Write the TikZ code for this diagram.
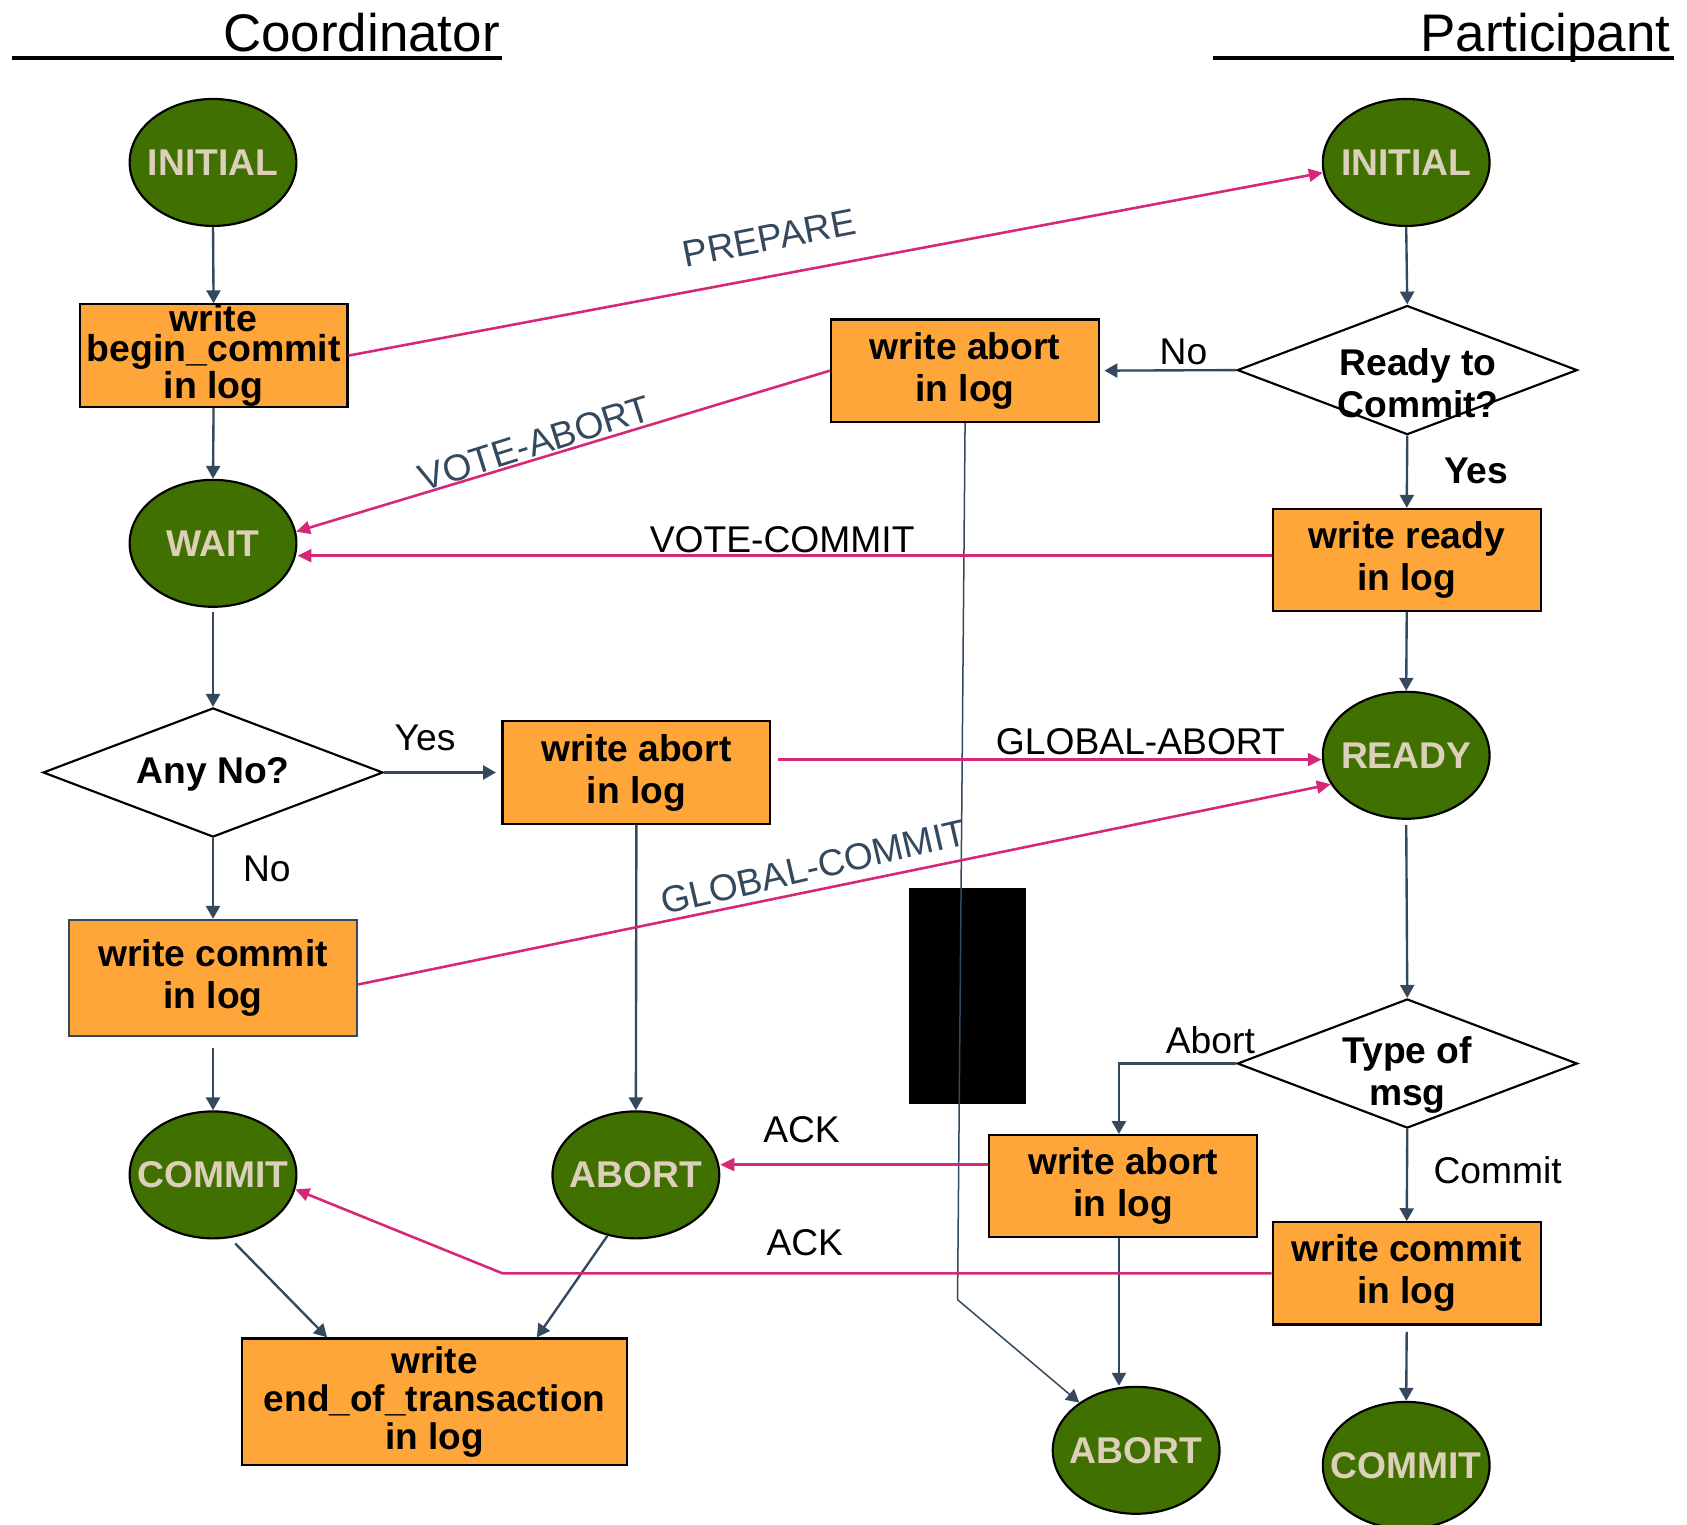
\documentclass[tikz,border=0pt]{standalone}
\usepackage{fontspec}
\setmainfont{Liberation Sans}
\usetikzlibrary{shapes.geometric,arrows.meta,calc}
\definecolor{stategreen}{RGB}{64,113,0}
\definecolor{statetext}{RGB}{221,208,186}
\definecolor{logorange}{RGB}{255,166,59}
\definecolor{slate}{RGB}{52,73,94}
\definecolor{msgpink}{RGB}{214,40,120}
\newcommand\zw[1]{\makebox[0pt]{#1}}
\tikzset{
 state/.style={ellipse, draw=black, line width=1pt, fill=stategreen, minimum width=77.5pt, minimum height=59pt, inner sep=0pt, text=statetext, font=\fontsize{17.3}{20}\selectfont\bfseries},
 logbox/.style={rectangle, draw=black, line width=1pt, fill=logorange, minimum width=124.5pt, minimum height=47.5pt, inner sep=0pt, align=center, font=\fontsize{17.3}{19.5}\selectfont\bfseries},
 decision/.style={diamond, draw=black, line width=1pt, fill=white, minimum width=158pt, minimum height=60pt, inner sep=0pt},
 dtext/.style={align=center, inner sep=0pt, font=\fontsize{17.3}{19.5}\selectfont\bfseries},
 flow/.style={draw=slate, line width=1.1pt, -{Triangle[length=6pt,width=6.5pt]}},
 flowthin/.style={flow, line width=0.7pt},
 msg/.style={draw=msgpink, line width=1.2pt, -{Triangle[length=6.5pt,width=6pt]}},
 lbl/.style={inner sep=0pt, font=\fontsize{17.3}{19.5}\selectfont},
 blbl/.style={lbl, font=\fontsize{17.3}{19.5}\selectfont\bfseries},
 slbl/.style={lbl, text=slate},
 title/.style={inner sep=0pt, font=\fontsize{24.6}{28}\selectfont},
}
\begin{document}
\begin{tikzpicture}[x=0.5pt,y=-0.5pt]
\useasboundingbox (0,0) rectangle (1568,1417.4);

% titles
\node[title, anchor=base west] (tcoord) at (207,48) {Coordinator};
\draw[line width=1.5pt] ([xshift=1pt,yshift=-3pt]tcoord.base east) -- ++(-456,0);
\node[title, anchor=base east] (tpart) at (1553,48) {Participant};
\draw[line width=1.5pt] ([xshift=1.5pt,yshift=-3pt]tpart.base east) -- ++(-429,0);

% redaction block
\node[fill=black, inner sep=0pt, minimum width=54.5pt, minimum height=100.5pt] (blk) at (899.5,925.5) {};

% coordinator side
\node[state] (ci) at (198,151) {\zw{INITIAL}};
\node[logbox, font=\fontsize{17.4}{14}\selectfont\bfseries] (bc) at (198.5,330.5) {write\\begin\_commit\\in log};
\node[state] (wait) at (198,505) {\zw{WAIT}};
\node[decision] (anyno) at (198,718) {};
\node[dtext] (ant) at (198,720) {Any No?};
\node[logbox, minimum width=134pt, minimum height=54pt, draw=slate] (wc) at (198,909) {write commit\\in log};
\node[state] (commitc) at (198,1092) {\zw{COMMIT}};
\node[logbox] (wa2) at (591.5,718) {write abort\\in log};
\node[state] (abortc) at (591,1092) {\zw{ABORT}};
\node[logbox, minimum width=179pt, minimum height=59pt, font=\fontsize{17.2}{17.5}\selectfont\bfseries] (eot) at (404,1303) {write\\end\_of\_transaction\\in log};

% participant side
\node[state] (pi) at (1307,151) {\zw{INITIAL}};
\node[decision] (rd) at (1308,344) {};
\node[dtext] (rdt) at (1318,356) {Ready to\\Commit?};
\node[logbox] (wa1) at (897,344.5) {write abort\\in log};
\node[logbox] (wr) at (1307.5,520.5) {write ready\\in log};
\node[state] (ready) at (1307,702) {\zw{READY}};
\node[decision] (tm) at (1308,988.5) {};
\node[dtext] (tmt) at (1308,999) {Type of\\msg};
\node[logbox] (wa3) at (1044,1102.5) {write abort\\in log};
\node[logbox] (wcp) at (1307.5,1183.5) {write commit\\in log};
\node[state] (abortp) at (1056,1348) {\zw{ABORT}};
\node[state] (commitp) at (1307,1362) {\zw{COMMIT}};

% coordinator flow
\draw[flow] (ci.south) -- (bc.north);
\draw[flow] (bc.south) -- (wait.north);
\draw[flow, shorten <=2pt] (wait.south) -- (anyno.north);
\draw[flow, shorten >=2.5pt] (anyno.east) -- (wa2.west);
\draw[flow] (anyno.south) -- (wc.north);
\draw[flow, shorten <=5pt] (wc.south) -- (commitc.north);
\draw[flow] (wa2.south) -- (abortc.north);
\draw[flow, shorten <=3.5pt] (commitc.-75) -- ([xshift=40pt]eot.north west);
\draw[flow] (abortc.-115) -- ([xshift=-42.5pt]eot.north east);

% participant flow
\draw[flow] (pi.south) -- (rd.north);
\draw[flow, shorten >=2pt] (rd.west) -- (wa1.east);
\draw[flow] (rd.south) -- (wr.north);
\draw[flow] (wr.south) -- (ready.north);
\draw[flow, shorten <=2.5pt] (ready.south) -- (tm.north);
\draw[flow] (tm.west) -| ([xshift=-2pt]wa3.north);
\draw[flow] (tm.south) -- (wcp.north);
\draw[flow] ([xshift=-2pt]wa3.south) -- ([xshift=-2pt]wa3.south |- abortp.north);
\draw[flow, shorten <=3pt] (wcp.south) -- (commitp.north);
\coordinate (bend) at (890,1208);
\draw[flowthin] (wa1.south) -- (bend) -- (abortp.140);

% messages
\draw[msg] (bc.east) -- (pi.187);
\draw[msg] (wa1.west) -- (wait.8);
\draw[msg] ([yshift=2pt]wr.west) -- ([yshift=2pt]wr.west -| wait.east);
\draw[msg] ([xshift=3pt,yshift=6pt]wa2.east) -- ([yshift=6pt]wa2.east -| ready.west);
\draw[msg] ([yshift=-3pt]wc.east) -- (ready.201);
\draw[msg] ([yshift=10pt]wa3.west) -- ([yshift=10pt]wa3.west -| abortc.east);
\coordinate (ackb) at (467,1182);
\draw[msg] (wcp.west) -- (wcp.west -| ackb) -- (commitc.-10);

% labels
\node[slbl, rotate=11] (lprep) at (715,221) {PREPARE};
\node[slbl, rotate=17.5] (lva) at (497,412) {VOTE-ABORT};
\node[lbl] (lvc) at (727,502) {VOTE-COMMIT};
\node[lbl] (lga) at (1060,689) {GLOBAL-ABORT};
\node[slbl, rotate=13] (lgc) at (756,806) {GLOBAL-COMMIT};
\node[lbl] (lack1) at (745,1050) {ACK};
\node[lbl] (lack2) at (748,1155) {ACK};
\node[lbl] (lyes1) at (395,686) {Yes};
\node[lbl] (lno1) at (248,808) {No};
\node[lbl] (lno2) at (1100,327) {No};
\node[blbl] (lyes2) at (1372,438) {Yes};
\node[lbl] (labort) at (1125,967) {Abort};
\node[lbl] (lcommit) at (1392,1088) {Commit};
\end{tikzpicture}
\end{document}
